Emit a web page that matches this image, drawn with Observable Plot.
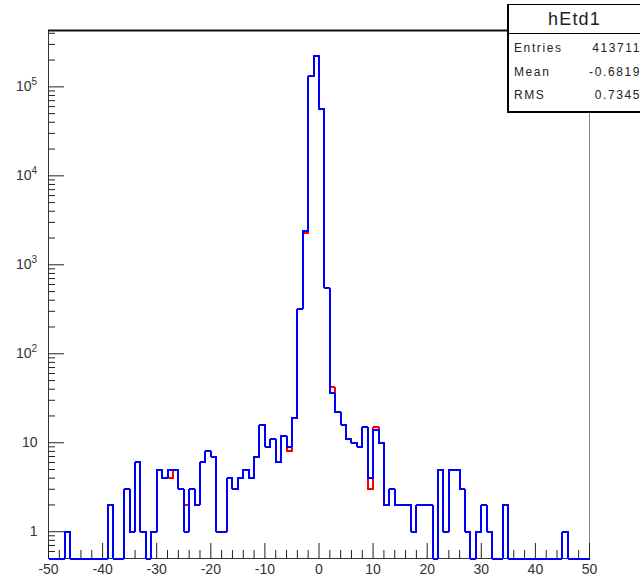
<!DOCTYPE html>
<html><head><meta charset="utf-8">
<script src="https://cdn.jsdelivr.net/npm/d3@7"></script>
<script src="https://cdn.jsdelivr.net/npm/@observablehq/plot@0.6"></script>
<style>
body{margin:0;background:#fff;font-family:"Liberation Sans",Arial,sans-serif}
#wrap{position:relative;width:640px;height:584px;overflow:hidden;background:#fff}
#stats{position:absolute;left:507px;top:4px;width:137px;height:109px;border:1px solid #000;border-left-width:2px;border-bottom-width:2px;background:#fff;box-sizing:border-box;color:#222}
#stats .title{position:absolute;left:0;top:0;width:131px;height:28px;line-height:28px;text-align:center;font-size:18px;letter-spacing:1.2px;border-bottom:1px solid #000}
#stats .row{position:absolute;left:5px;width:127px;font-size:12px;letter-spacing:1.6px;height:14px;line-height:14px}
#stats .row .v{position:absolute;right:0;top:0}
</style></head><body><div id="wrap"></div>
<script>
// ---- data ----
const histName = "hEtd1";
const xMin = -50, xMax = 50, binWidth = 1;
const blueCounts = [
  0,0,0,1,0,0,0,0,0,0,
  0,2,0,0,3,1,6,1,0,1,
  5,4,5,5,3,1,3,2,6,8,
  7,1,1,4,3,4,5,4,7,16,
  9,11,6,12,9,19,320,2400,131000,223000,
  56000,550,36,22,16,11,10,9,15,4,
  14,10,2,3,2,2,2,1,2,2,
  2,0,5,1,5,5,3,1,0,1,
  2,1,0,0,2,0,0,0,0,0,
  0,0,0,0,0,1,0,0,0,0];
const redCounts = [
  0,0,0,1,0,0,0,0,0,0,
  0,2,0,0,3,1,6,1,0,1,
  5,4,4,5,3,2,3,2,6,8,
  7,1,1,4,3,4,5,4,7,16,
  9,11,6,12,8,19,320,2250,131000,223000,
  56000,550,42,22,16,11,10,9,15,3,
  15,10,2,3,2,2,2,1,2,2,
  2,0,5,1,5,5,3,1,0,1,
  2,1,0,0,2,0,0,0,0,0,
  0,0,0,0,0,1,0,0,0,0];
const statLabels = ["Entries", "Mean", "RMS"];
const statValues = ["413711", "-0.6819", "0.7345"];
const xTickLabels = [-50, -40, -30, -20, -10, 0, 10, 20, 30, 40, 50];
const yMin = 0.5, yMax = 4.3e5;
const yDecadesPlain = [1, 10];
const yDecadesExp = [2, 3, 4, 5];

// ---- derived ----
function steps(counts) {
  const pts = counts.map((v, i) => ({x: xMin + i * binWidth, y: Math.max(v, yMin)}));
  pts.push({x: xMin + counts.length * binWidth, y: Math.max(counts[counts.length - 1], yMin)});
  return pts;
}
const blueSteps = steps(blueCounts);
const redSteps = steps(redCounts);

const yMajor = [];
const yMinor = [];
for (let k = -1; k <= 5; k++) {
  for (let m = 1; m <= 9; m++) {
    const v = m * Math.pow(10, k);
    if (v <= yMin || v > yMax) continue;
    (m === 1 ? yMajor : yMinor).push(v);
  }
}
const xMajor = d3.range(xMin, xMax + 1, 10);
const xMinor = d3.range(xMin, xMax + 1, 2).filter(v => v % 10 !== 0);

const W = 640, H = 584, mL = 48, mR = 51, mT = 30, mB = 26;
const frameW = W - mL - mR, frameH = H - mT - mB;
const font = "Liberation Sans, Arial, sans-serif";

const chart = Plot.plot({
  width: W, height: H,
  marginLeft: mL, marginRight: mR, marginTop: mT, marginBottom: mB,
  x: {domain: [xMin, xMax], axis: null},
  y: {type: "log", domain: [yMin, yMax], axis: null},
  style: {fontFamily: font, background: "white", overflow: "visible"},
  marks: [
    Plot.ruleX([xMin], {stroke: "#333", strokeWidth: 1}),
    Plot.ruleX([xMax], {stroke: "#888", strokeWidth: 1}),
    Plot.ruleY([yMax], {stroke: "#111", strokeWidth: 2}),
    Plot.ruleY([yMin], {stroke: "#333", strokeWidth: 1}),
    Plot.tickY(yMinor, {y: d => d, insetRight: frameW - 7, stroke: "#222"}),
    Plot.tickY(yMajor, {y: d => d, insetRight: frameW - 16, stroke: "#222"}),
    Plot.tickX(xMinor, {x: d => d, insetTop: frameH - 8, stroke: "#222"}),
    Plot.tickX(xMajor, {x: d => d, insetTop: frameH - 15, stroke: "#222"}),
    Plot.line(redSteps, {x: "x", y: "y", curve: "step-after", stroke: "#ff0000", strokeWidth: 2, strokeLinejoin: "miter", shapeRendering: "crispEdges"}),
    Plot.line(blueSteps, {x: "x", y: "y", curve: "step-after", stroke: "#0000ff", strokeWidth: 2, strokeLinejoin: "miter", shapeRendering: "crispEdges"}),
    Plot.text(xTickLabels, {x: d => d, frameAnchor: "bottom", dy: 15, text: d => String(d), fontSize: 14, fill: "#333"}),
    Plot.text(yDecadesPlain, {y: d => d, frameAnchor: "left", dx: -11, text: d => String(d), textAnchor: "end", fontSize: 14, fill: "#333"}),
    Plot.text(yDecadesExp, {y: d => Math.pow(10, d), frameAnchor: "left", dx: -17, text: () => "10", textAnchor: "end", fontSize: 14, fill: "#333"}),
    Plot.text(yDecadesExp, {y: d => Math.pow(10, d), frameAnchor: "left", dx: -17, dy: -5, text: d => String(d), textAnchor: "start", fontSize: 10, fill: "#333"})
  ]
});

const wrap = document.getElementById("wrap");
wrap.appendChild(chart);

const stats = document.createElement("div");
stats.id = "stats";
const t = document.createElement("div");
t.className = "title";
t.textContent = histName;
stats.appendChild(t);
const rowTops = [36, 60, 83];
statLabels.forEach((lab, i) => {
  const r = document.createElement("div");
  r.className = "row";
  r.style.top = rowTops[i] + "px";
  r.textContent = lab;
  const v = document.createElement("span");
  v.className = "v";
  v.textContent = statValues[i];
  r.appendChild(v);
  stats.appendChild(r);
});
wrap.appendChild(stats);
</script>
</body></html>
